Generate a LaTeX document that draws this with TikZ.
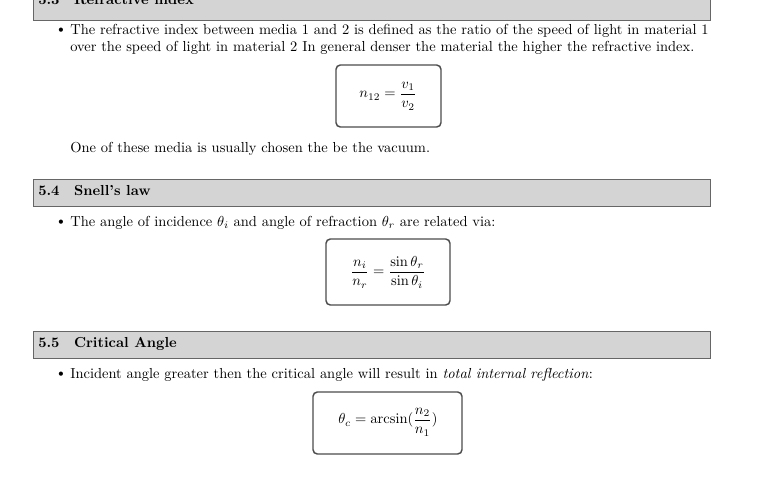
\documentclass[tikz,border=0pt]{standalone}
\usepackage{amsmath}
\begin{document}
\begin{tikzpicture}[x=0.69pt,y=-0.69pt,
  hdr/.style={fill=black!17,draw=black!60,line width=0.6pt},
  hdrtext/.style={anchor=west,font=\bfseries,inner sep=0pt},
  txt/.style={anchor=west,inner sep=0pt,align=left},
  eqbox/.style={draw=black!70,line width=1pt,rounded corners=3pt,fill=white}]
\useasboundingbox (0,0) rectangle (780,479);
% header 5.3 (cut)
\begin{scope}
\clip (0,0) rectangle (780,479);
\draw[hdr] (33,-10) rectangle (710,20);
\node[hdrtext] (h3) at (38,0) {5.3\quad Refractive index};
\end{scope}
\node[inner sep=0pt] (b1) at (61,31) {\textbullet};
\node[txt,anchor=north west] (t1) at (70,24) {The refractive index between media 1 and 2 is defined as the ratio of the speed of light in material 1\\over the speed of light in material 2 In general denser the material the higher the refractive index.};
\draw[eqbox] (336,65) rectangle (441,127);
\node (e1) at (388,96) {$n_{12}=\dfrac{v_1}{v_2}$};
\node[txt] (t2) at (70,149) {One of these media is usually chosen the be the vacuum.};
% 5.4
\draw[hdr] (33,179) rectangle (710,206);
\node[hdrtext] (h4) at (38,191) {5.4\quad Snell's law};
\node[inner sep=0pt] (b2) at (61,223) {\textbullet};
\node[txt] (t3) at (70,223) {The angle of incidence $\theta_i$ and angle of refraction $\theta_r$ are related via:};
\draw[eqbox] (326,239) rectangle (450,305);
\node (e2) at (388,272) {$\dfrac{n_i}{n_r}=\dfrac{\sin\theta_r}{\sin\theta_i}$};
% 5.5
\draw[hdr] (33,331) rectangle (710,358);
\node[hdrtext] (h5) at (38,344) {5.5\quad Critical Angle};
\node[inner sep=0pt] (b3) at (61,375) {\textbullet};
\node[txt] (t4) at (70,375) {Incident angle greater then the critical angle will result in \textit{total internal reflection}:};
\draw[eqbox] (313,392) rectangle (462,454);
\node (e3) at (388,422) {$\theta_c=\arcsin(\dfrac{n_2}{n_1})$};
\end{tikzpicture}
\end{document}
